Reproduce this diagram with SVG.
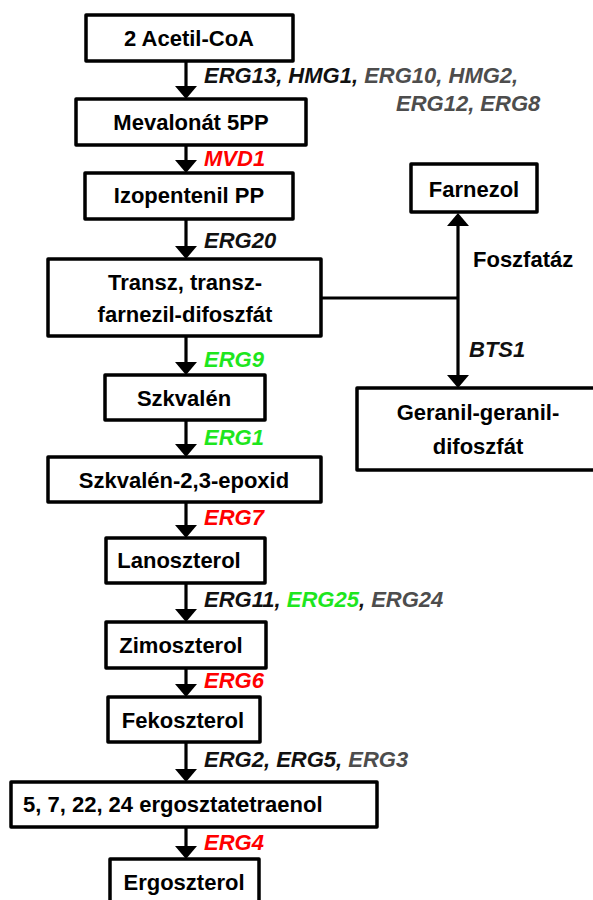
<svg xmlns="http://www.w3.org/2000/svg" width="593" height="900" viewBox="0 0 593 900">
<defs>
<marker id="ah" viewBox="0 0 13 22" refX="3" refY="11" markerWidth="13" markerHeight="22" orient="auto" markerUnits="userSpaceOnUse">
<path d="M0,0 L13,11 L0,22 z" fill="#000"/>
</marker>
<style>
.box{fill:#fff;stroke:#000;stroke-width:3.5;stroke-linejoin:round}
.lbl{font-family:"Liberation Sans",Arial,sans-serif;font-weight:bold;font-size:22px;fill:#000;text-anchor:middle}
.gene{font-family:"Liberation Sans",Arial,sans-serif;font-weight:bold;font-style:italic;font-size:22px;fill:#111}
.red{fill:#ff0000}
.grn{fill:#1ee61e}
.gry{fill:#4d4d4d}
.con{stroke:#000;stroke-width:3.2;fill:none}
.arr{marker-end:url(#ah)}
</style>
</defs>
<rect width="593" height="900" fill="#fff"/>

<g id="connectors">
<line class="con arr" x1="186" y1="61" x2="186" y2="89"/>
<line class="con arr" x1="186" y1="145" x2="186" y2="163"/>
<line class="con arr" x1="186" y1="219" x2="186" y2="249"/>
<line class="con arr" x1="186" y1="336" x2="186" y2="365"/>
<line class="con arr" x1="186" y1="420" x2="186" y2="447"/>
<line class="con arr" x1="186" y1="502" x2="186" y2="528"/>
<line class="con arr" x1="186" y1="583" x2="186" y2="612"/>
<line class="con arr" x1="186" y1="668" x2="186" y2="687"/>
<line class="con arr" x1="186" y1="742" x2="186" y2="772"/>
<line class="con arr" x1="186" y1="827" x2="186" y2="849"/>
<line class="con" x1="321" y1="298" x2="458" y2="298"/>
<line class="con arr" x1="458" y1="298" x2="458" y2="223"/>
<line class="con arr" x1="458" y1="298" x2="458" y2="378"/>
</g>

<g id="acetilcoa"><rect class="box" x="86" y="15" width="207" height="46"/><text class="lbl" x="189" y="46">2 Acetil-CoA</text></g>
<g id="mevalonat"><rect class="box" x="76" y="99" width="230" height="46"/><text class="lbl" x="191" y="130">Mevalonát 5PP</text></g>
<g id="izopentenil"><rect class="box" x="85" y="173" width="208" height="46"/><text class="lbl" x="189" y="203">Izopentenil PP</text></g>
<g id="transz"><rect class="box" x="48" y="259" width="273" height="77"/><text class="lbl" x="185" y="290">Transz, transz-</text><text class="lbl" x="185" y="322">farnezil-difoszfát</text></g>
<g id="farnezol"><rect class="box" x="411" y="164" width="126" height="48"/><text class="lbl" x="474" y="197">Farnezol</text></g>
<g id="geranil"><rect class="box" x="357" y="388" width="240" height="82"/><text class="lbl" x="478" y="420">Geranil-geranil-</text><text class="lbl" x="478" y="454">difoszfát</text></g>
<g id="szkvalen"><rect class="box" x="105" y="375" width="160" height="45"/><text class="lbl" x="184" y="406">Szkvalén</text></g>
<g id="epoxid"><rect class="box" x="48" y="457" width="273" height="45"/><text class="lbl" x="184" y="488">Szkvalén-2,3-epoxid</text></g>
<g id="lanoszterol"><rect class="box" x="106" y="538" width="159" height="45"/><text class="lbl" x="179" y="568">Lanoszterol</text></g>
<g id="zimoszterol"><rect class="box" x="106" y="622" width="160" height="46"/><text class="lbl" x="181" y="653">Zimoszterol</text></g>
<g id="fekoszterol"><rect class="box" x="108" y="697" width="152" height="45"/><text class="lbl" x="183" y="728">Fekoszterol</text></g>
<g id="ergosztatetraenol"><rect class="box" x="11" y="782" width="366" height="45"/><text class="lbl" x="23" y="812" style="text-anchor:start">5, 7, 22, 24 ergosztatetraenol</text></g>
<g id="ergoszterol"><rect class="box" x="110" y="859" width="149" height="50"/><text class="lbl" x="184" y="890">Ergoszterol</text></g>

<g id="genes">
<text class="gene" x="204" y="83">ERG13, HMG1, <tspan class="gry">ERG10, HMG2,</tspan></text>
<text class="gene gry" x="396" y="111">ERG12, ERG8</text>
<text class="gene red" x="204" y="166">MVD1</text>
<text class="gene" x="204" y="248">ERG20</text>
<text class="gene grn" x="204" y="367">ERG9</text>
<text class="gene grn" x="204" y="445">ERG1</text>
<text class="gene red" x="204" y="525">ERG7</text>
<text class="gene" x="204" y="607">ERG11, <tspan class="grn">ERG25</tspan>, <tspan class="gry">ERG24</tspan></text>
<text class="gene red" x="204" y="688">ERG6</text>
<text class="gene" x="204" y="767">ERG2, ERG5, <tspan class="gry">ERG3</tspan></text>
<text class="gene red" x="204" y="850">ERG4</text>
<text class="gene" x="469" y="357">BTS1</text>
<text class="lbl" x="473" y="267" style="text-anchor:start">Foszfatáz</text>
</g>
</svg>
